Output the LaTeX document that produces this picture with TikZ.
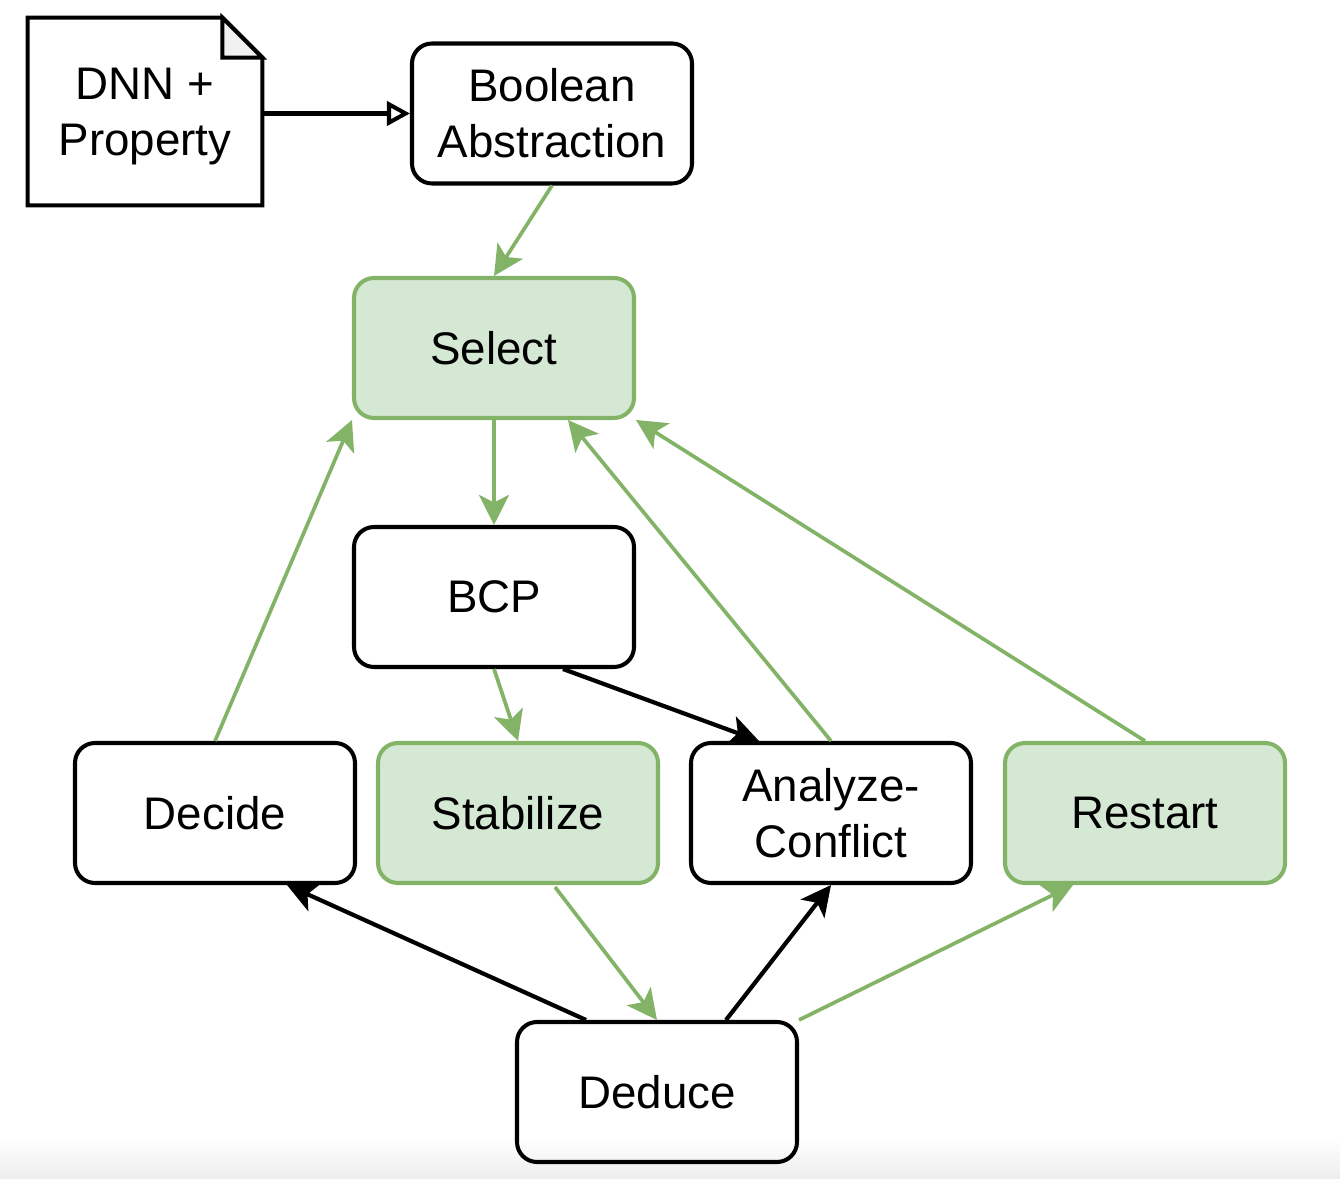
\documentclass[tikz,border=0pt]{standalone}
\usepackage{fontspec}
\setmainfont{Liberation Sans}
\usetikzlibrary{arrows.meta}
\definecolor{leaf}{HTML}{82B366}
\definecolor{leaffill}{HTML}{D5E8D4}
\definecolor{foldgray}{HTML}{F0F0F0}
\begin{document}
\begin{tikzpicture}[
  box/.style={draw, line width=2.3pt, rounded corners=0.4cm, minimum width=5.6cm, minimum height=2.8cm, align=center, inner sep=0pt, font=\fontsize{26}{32}\selectfont},
  gbox/.style={box, draw=leaf, fill=leaffill},
  garrow/.style={draw=leaf, line width=2.1pt, -{Stealth[length=0.6cm,width=0.6cm,inset=0.15cm]}},
  barrow/.style={line width=2.4pt, -{Stealth[length=0.6cm,width=0.6cm,inset=0.15cm]}}
]
\useasboundingbox (0,0) rectangle (26.8,23.56);
\shade[top color=white, bottom color=black!7] (0,0) rectangle (26.8,0.8);
% input document
\node[minimum width=4.68cm, minimum height=3.74cm, inner sep=0pt, align=center, font=\fontsize{26}{32}\selectfont] (dnn) at (2.9,21.33) {};
\node[align=center, inner sep=0pt, font=\fontsize{26}{32}\selectfont] (dnntext) at ([yshift=-0.1cm]dnn.center) {DNN +\\Property};
\draw[line width=2.3pt] (dnn.south west) -- (dnn.north west) -- ([xshift=-0.8cm]dnn.north east) -- ([yshift=-0.8cm]dnn.north east) -- (dnn.south east) -- cycle;
\filldraw[fill=foldgray, line width=2.3pt] ([xshift=-0.8cm]dnn.north east) -- ([xshift=-0.8cm,yshift=-0.8cm]dnn.north east) -- ([yshift=-0.8cm]dnn.north east) -- cycle;
% boxes
\node[box] (bool) at (11.04,21.29) {Boolean\\Abstraction};
\node[gbox] (select) at (9.88,16.6) {Select};
\node[box] (bcp) at (9.88,11.62) {BCP};
\node[box] (decide) at (4.3,7.3) {Decide};
\node[gbox] (stab) at (10.36,7.3) {Stabilize};
\node[box] (analyze) at (16.62,7.3) {Analyze-\\Conflict};
\node[gbox] (restart) at (22.9,7.3) {Restart};
\node[box] (deduce) at (13.14,1.72) {Deduce};
% connectors
\draw[line width=2.3pt, -{Triangle[open,length=0.46cm,width=0.48cm]}] (dnn.east |- bool.west) -- (bool.west);
\draw[garrow] (bool.south) -- (select.north);
\draw[garrow] (select.south) -- (bcp.north);
\draw[garrow] (decide.north) -- (select.south west);
\draw[garrow] (analyze.north) -- ([xshift=1.48cm]select.south);
\draw[garrow] (restart.north) -- (select.south east);
\draw[garrow] (bcp.south) -- (stab.north);
\draw[barrow] ([xshift=1.38cm]bcp.south) -- ([xshift=-1.44cm]analyze.north);
\draw[garrow] ([xshift=0.74cm,yshift=-0.04cm]stab.south) -- (deduce.north);
\draw[barrow] ([xshift=-1.42cm]deduce.north) -- ([xshift=1.44cm]decide.south);
\draw[barrow] ([xshift=1.38cm]deduce.north) -- (analyze.south);
\draw[garrow] (deduce.north east) -- ([xshift=-1.44cm]restart.south);
\end{tikzpicture}
\end{document}
